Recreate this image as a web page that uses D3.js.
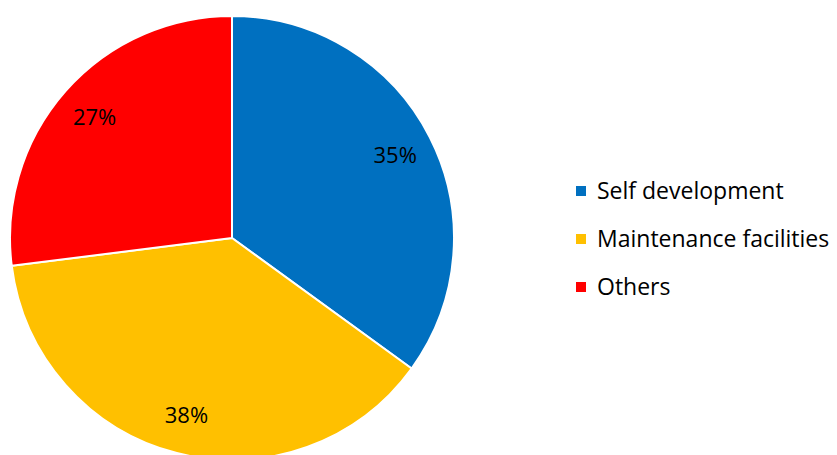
<!DOCTYPE html>
<html>
<head>
<meta charset="utf-8">
<script src="https://cdn.jsdelivr.net/npm/d3@7"></script>
<style>
  html, body { margin: 0; padding: 0; background: #fff; }
  svg { display: block; }
  text { font-family: "Open Sans", Lato, sans-serif; fill: #000; font-variant-ligatures: none; }
</style>
</head>
<body>
<svg id="chart" width="837" height="455"></svg>
<script>
// Share of responses by category
const categories = ["Self development", "Maintenance facilities", "Others"];
const shares = [35, 38, 27];
const colors = ["#0070C0", "#FFC000", "#FF0000"];

const svg = d3.select("#chart");
const cx = 232, cy = 238, radius = 222;

const color = d3.scaleOrdinal().domain(categories).range(colors);

const pie = d3.pie().sort(null).value(d => d.value);
const data = pie(categories.map((c, i) => ({ name: c, value: shares[i] })));

const arc = d3.arc().innerRadius(0).outerRadius(radius);
const labelArc = d3.arc().innerRadius(radius * 0.825).outerRadius(radius * 0.825);

const g = svg.append("g").attr("transform", `translate(${cx},${cy})`);

g.selectAll("path.slice")
  .data(data)
  .join("path")
  .attr("class", "slice")
  .attr("d", arc)
  .attr("fill", d => color(d.data.name))
  .attr("stroke", "#fff")
  .attr("stroke-width", 2)
  .attr("stroke-linejoin", "round");

g.selectAll("text.pct")
  .data(data)
  .join("text")
  .attr("class", "pct")
  .attr("transform", d => `translate(${labelArc.centroid(d)})`)
  .attr("text-anchor", "middle")
  .attr("dy", "0.35em")
  .style("font-size", "22px")
  .text(d => d.data.value + "%");

// Legend
const legend = svg.append("g").attr("transform", "translate(576,191)");
const rowH = 48;
const item = legend.selectAll("g.item")
  .data(categories)
  .join("g")
  .attr("class", "item")
  .attr("transform", (d, i) => `translate(0,${i * rowH})`);

item.append("rect")
  .attr("x", 0).attr("y", -5)
  .attr("width", 10).attr("height", 10)
  .attr("fill", d => color(d));

item.append("text")
  .attr("x", 21)
  .attr("dy", "0.35em")
  .style("font-size", "23px")
  .text(d => d);
</script>
</body>
</html>
